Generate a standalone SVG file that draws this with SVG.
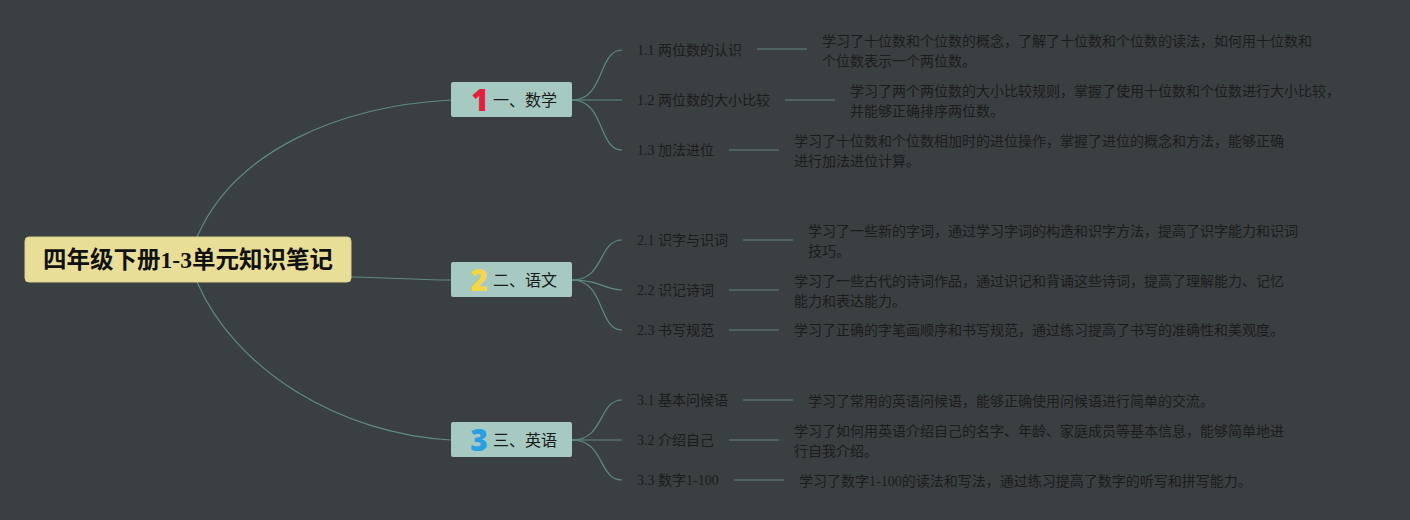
<svg xmlns="http://www.w3.org/2000/svg" width="1410" height="520" viewBox="0 0 1410 520">
<style>
.bg{fill:#3a3f42}
.conn{fill:none;stroke:#5f8c84;stroke-width:1.2}
.sl{fill:none;stroke:#56716d;stroke-width:1.5}
.root{fill:#e8de98;stroke:#d8cf88;stroke-width:1}
.br{fill:#a6c9c2}
.rt{font-family:"Liberation Serif","Noto Sans CJK SC",serif;font-weight:bold;font-size:23.5px;fill:#111}
.bt{font-family:"Noto Sans CJK SC",sans-serif;font-size:16px;fill:#1a1a1a}
.num{font-family:"Noto Sans","DejaVu Sans",sans-serif;font-weight:900;font-size:30px}
.ct{font-family:"Liberation Serif","Noto Sans CJK SC",serif;font-size:14px;fill:#1c1c1c}
.dt{font-family:"Liberation Serif","Noto Sans CJK SC",serif;font-size:14px;fill:#1c1c1c}
</style>
<rect class="bg" x="0" y="0" width="1410" height="520"/>
<g id="connectors">
<path class="conn" d="M197,237 C235,150 340,106 451,100"/>
<path class="conn" d="M351,277 C400,278 420,280 451,280"/>
<path class="conn" d="M197,282 C235,370 340,434 451,440"/>
<path class="conn" d="M572,100 C605,100 598,50 622,50"/>
<path class="conn" d="M572,100 L622,100"/>
<path class="conn" d="M572,100 C605,100 598,150 622,150"/>
<path class="conn" d="M572,280 C605,280 598,240 622,240"/>
<path class="conn" d="M572,280 C600,280 605,290 622,290"/>
<path class="conn" d="M572,280 C605,280 598,330 622,330"/>
<path class="conn" d="M572,440 C605,440 598,400 622,400"/>
<path class="conn" d="M572,440 L622,440"/>
<path class="conn" d="M572,440 C605,440 598,480 622,480"/>
<line class="sl" x1="757" y1="49" x2="807" y2="49"/>
<line class="sl" x1="785" y1="100" x2="835" y2="100"/>
<line class="sl" x1="729" y1="150" x2="779" y2="150"/>
<line class="sl" x1="743" y1="240" x2="793" y2="240"/>
<line class="sl" x1="729" y1="290" x2="779" y2="290"/>
<line class="sl" x1="729" y1="330" x2="779" y2="330"/>
<line class="sl" x1="743" y1="400" x2="793" y2="400"/>
<line class="sl" x1="729" y1="440" x2="779" y2="440"/>
<line class="sl" x1="734" y1="480" x2="784" y2="480"/>
</g>
<g id="root">
<rect class="root" x="25" y="237" width="326" height="45" rx="4"/>
<text class="rt" x="188" y="268" text-anchor="middle">四年级下册1-3单元知识笔记</text>
</g>
<g id="b1">
<rect class="br" x="451" y="82" width="121" height="35" rx="2"/>
<text class="num" x="480" y="111" text-anchor="middle" fill="#e2203c">1</text>
<text class="bt" x="493" y="106">一、数学</text>
</g>
<g id="b2">
<rect class="br" x="451" y="262" width="121" height="35" rx="2"/>
<text class="num" x="479" y="291" text-anchor="middle" fill="#f4d646">2</text>
<text class="bt" x="493" y="286">二、语文</text>
</g>
<g id="b3">
<rect class="br" x="451" y="422" width="121" height="35" rx="2"/>
<text class="num" x="479" y="451" text-anchor="middle" fill="#2a9fe2">3</text>
<text class="bt" x="493" y="446">三、英语</text>
</g>
<g id="c11"><text class="ct" x="637" y="55">1.1 两位数的认识</text></g>
<g id="c12"><text class="ct" x="637" y="105">1.2 两位数的大小比较</text></g>
<g id="c13"><text class="ct" x="637" y="155">1.3 加法进位</text></g>
<g id="c21"><text class="ct" x="637" y="245">2.1 识字与识词</text></g>
<g id="c22"><text class="ct" x="637" y="295">2.2 识记诗词</text></g>
<g id="c23"><text class="ct" x="637" y="335">2.3 书写规范</text></g>
<g id="c31"><text class="ct" x="637" y="405">3.1 基本问候语</text></g>
<g id="c32"><text class="ct" x="637" y="445">3.2 介绍自己</text></g>
<g id="c33"><text class="ct" x="637" y="485">3.3 数字1-100</text></g>
<g id="d11"><text class="dt" x="822" y="46">学习了十位数和个位数的概念，了解了十位数和个位数的读法，如何用十位数和</text><text class="dt" x="822" y="66">个位数表示一个两位数。</text></g>
<g id="d12"><text class="dt" x="850" y="96">学习了两个两位数的大小比较规则，掌握了使用十位数和个位数进行大小比较，</text><text class="dt" x="850" y="116">并能够正确排序两位数。</text></g>
<g id="d13"><text class="dt" x="794" y="146">学习了十位数和个位数相加时的进位操作，掌握了进位的概念和方法，能够正确</text><text class="dt" x="794" y="166">进行加法进位计算。</text></g>
<g id="d21"><text class="dt" x="808" y="236">学习了一些新的字词，通过学习字词的构造和识字方法，提高了识字能力和识词</text><text class="dt" x="808" y="256">技巧。</text></g>
<g id="d22"><text class="dt" x="794" y="286">学习了一些古代的诗词作品，通过识记和背诵这些诗词，提高了理解能力、记忆</text><text class="dt" x="794" y="306">能力和表达能力。</text></g>
<g id="d23"><text class="dt" x="794" y="335">学习了正确的字笔画顺序和书写规范，通过练习提高了书写的准确性和美观度。</text></g>
<g id="d31"><text class="dt" x="808" y="406">学习了常用的英语问候语，能够正确使用问候语进行简单的交流。</text></g>
<g id="d32"><text class="dt" x="794" y="436">学习了如何用英语介绍自己的名字、年龄、家庭成员等基本信息，能够简单地进</text><text class="dt" x="794" y="456">行自我介绍。</text></g>
<g id="d33"><text class="dt" x="799" y="486">学习了数字1-100的读法和写法，通过练习提高了数字的听写和拼写能力。</text></g>
</svg>
